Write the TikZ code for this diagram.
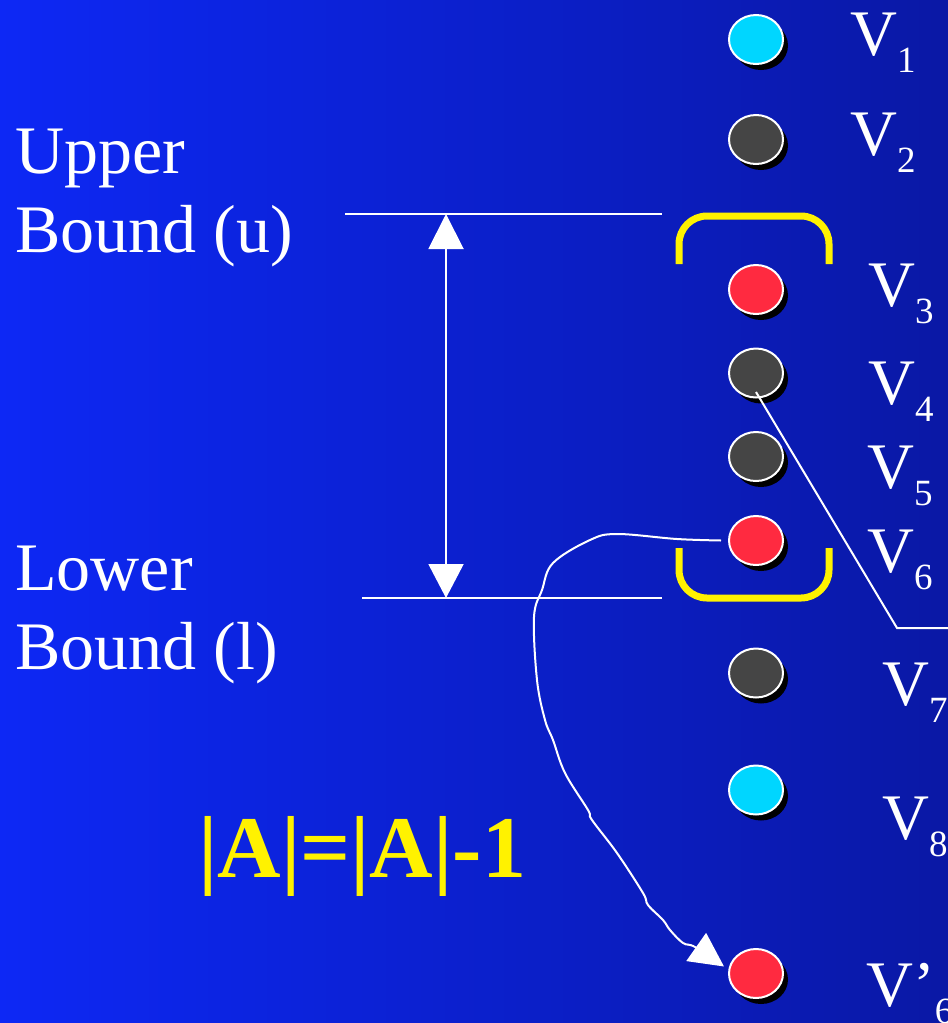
\documentclass[tikz,border=0pt]{standalone}
\usepackage{fontspec}
\setmainfont{Liberation Serif}
\usetikzlibrary{shapes.geometric,arrows.meta,shadows}
\definecolor{bgL}{RGB}{13,40,245}
\definecolor{bgR}{RGB}{10,24,165}
\definecolor{vcyan}{RGB}{0,214,255}
\definecolor{vgray}{RGB}{69,69,69}
\definecolor{vred}{RGB}{255,42,64}
\newcommand\vsub[1]{\raisebox{-17pt}{\fontsize{37}{37}\selectfont #1}}
\begin{document}
\begin{tikzpicture}[x=1pt,y=-1pt,
  vert/.style={ellipse, draw=white, line width=2pt, minimum width=54pt, minimum height=49pt, inner sep=0pt,
    drop shadow={shadow xshift=5pt, shadow yshift=-6pt, fill=black, opacity=1}},
  vlab/.style={anchor=base west, inner sep=0pt, text=white, font=\fontsize{65}{65}\selectfont},
  side/.style={anchor=base west, inner sep=0pt, text=white, font=\fontsize{68}{79}\selectfont},
  wline/.style={draw=white, line width=2pt},
  bracket/.style={draw=yellow, line width=7pt, rounded corners=28pt}]
\useasboundingbox (0,0) rectangle (948,1023);
\clip (0,0) rectangle (948,1023);
\shade[left color=bgL, right color=bgR] (0,0) rectangle (948,1023);

% side labels
\node[side] (up1) at (15,173) {Upper};
\node[side] (up2) at (15,252) {Bound (u)};
\node[side] (lo1) at (15,590) {Lower};
\node[side] (lo2) at (15,669) {Bound (l)};

% bound lines and double arrow
\coordinate (uL) at (345,214); \coordinate (uR) at (662,214);
\coordinate (lL) at (362,598); \coordinate (lR) at (662,598);
\draw[wline] (uL) -- (uR);
\draw[wline] (lL) -- (lR);
\coordinate (aT) at (446,214); \coordinate (aB) at (446,598);
\draw[wline, {Triangle[width=35pt,length=35pt]}-{Triangle[width=35pt,length=34pt]}] (aT) -- (aB);

% brackets
\draw[bracket] (679,264) -- (679,216) -- (829,216) -- (829,264);
\draw[bracket] (679,548) -- (679,598) -- (829,598) -- (829,548);

% vertices
\node[vert, fill=vcyan] (v1) at (756,39.5) {};
\node[vert, fill=vgray] (v2) at (756,139.5) {};
\node[vert, fill=vred]  (v3) at (756,289.5) {};
\node[vert, fill=vgray] (v4) at (756,373) {};
\node[vert, fill=vgray] (v5) at (756,456.5) {};
\node[vert, fill=vred]  (v6) at (756,540.5) {};
\node[vert, fill=vgray] (v7) at (756,673) {};
\node[vert, fill=vcyan] (v8) at (756,790) {};
\node[vert, fill=vred]  (v6p) at (756,973.5) {};

% vertex labels
\node[vlab] (l1) at (850,55) {V\vsub{1}};
\node[vlab] (l2) at (850,155) {V\vsub{2}};
\node[vlab] (l3) at (868,306) {V\vsub{3}};
\node[vlab] (l4) at (868,404) {V\vsub{4}};
\node[vlab] (l5) at (867,488) {V\vsub{5}};
\node[vlab] (l6) at (867,572) {V\vsub{6}};
\node[vlab] (l7) at (882,705) {V\vsub{7}};
\node[vlab] (l8) at (882,839) {V\vsub{8}};
\node[vlab] (l6p) at (866,1006) {V’\vsub{6}};

% line from V4
\coordinate (k1) at (897,628);
\coordinate (k2) at (950,628);
\draw[wline] ([yshift=-19pt]v4.center) -- (k1) -- (k2);

% curve from V6 to V'6
\coordinate (cs) at ([xshift=-7pt]v6.west);
\coordinate (ce) at ([xshift=-4pt,yshift=7pt]v6p.west);
\draw[wline, -{Triangle[width=34pt,length=34pt]}] plot[smooth, tension=0.6] coordinates {(cs) (677,539) (617,534) (590,540) (553,563) (542,590) (534,617) (537,680) (545,720) (553,740) (565,773) (588,810) (592,820) (617,853) (643,893) (648,905) (663,920) (670,930) (683,943) (695,947) (ce)};

% equation
\node[anchor=base west, inner sep=0pt, text=yellow, font=\fontsize{88}{88}\selectfont\bfseries] (eq) at (198,877) {|A|=|A|-1};
\end{tikzpicture}
\end{document}
